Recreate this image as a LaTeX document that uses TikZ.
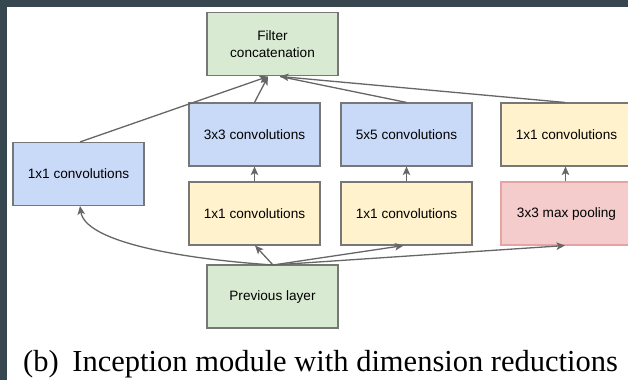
\documentclass[tikz,border=0pt]{standalone}
\usepackage{fontspec}
\setmainfont{Liberation Serif}
\setsansfont{Liberation Sans}
\usetikzlibrary{arrows.meta}
\definecolor{bandcol}{HTML}{37474F}
\definecolor{bluefill}{HTML}{C9DAF8}
\definecolor{yellowfill}{HTML}{FFF2CC}
\definecolor{greenfill}{HTML}{D9EAD3}
\definecolor{pinkfill}{HTML}{F4CCCC}
\definecolor{edgecol}{HTML}{777777}
\definecolor{arrowcol}{HTML}{666666}
\definecolor{pinkedge}{HTML}{E6A3A3}
\begin{document}
\begin{tikzpicture}[x=1pt,y=-1pt,
  box/.style={draw=edgecol, line width=1.1pt, minimum width=131pt, minimum height=63pt,
    inner sep=0pt, align=center, font=\sffamily\fontsize{13.6}{16.5}\selectfont},
  conn/.style={draw=arrowcol, line width=1.3pt, -{Stealth[length=8.5pt,width=7.5pt,inset=2pt]}},
  plain/.style={draw=arrowcol, line width=1.3pt}]
\useasboundingbox (0,0) rectangle (628,380);
\fill[white] (0,0) rectangle (628,380);
\fill[bandcol] (0,0) rectangle (628,7);
\fill[bandcol] (0,0) rectangle (7,380);
\begin{scope}
\clip (7,7) rectangle (628,380);
\node[box, fill=greenfill] (filt) at (272.5,44) {Filter\\concatenation};
\node[box, fill=bluefill] (left) at (78.5,174) {1x1 convolutions};
\node[box, fill=bluefill] (c33) at (254.5,134.5) {3x3 convolutions};
\node[box, fill=bluefill] (c55) at (406.5,134.5) {5x5 convolutions};
\node[box, fill=yellowfill] (r11) at (566.5,134.5) {1x1 convolutions};
\node[box, fill=yellowfill] (y1) at (254.5,213.5) {1x1 convolutions};
\node[box, fill=yellowfill] (y2) at (406.5,213.5) {1x1 convolutions};
\node[box, fill=pinkfill, draw=pinkedge] (pool) at (566.5,213.5) {3x3 max pooling};
\node[box, fill=greenfill] (prev) at (272.5,296.5) {Previous layer};
\coordinate (fa) at (268,76.5);
\coordinate (fb) at (280,76.5);
\draw[conn] (left.north) ++(1.5,0) coordinate (lt) -- (fa);
\draw[conn] (c33.north) -- (fa);
\draw[plain] (c55.north) -- (fb);
\draw[conn] (r11.north) ++(-1.5,0) coordinate (rt) -- (fb);
\draw[conn] (y1.north) -- (c33.south);
\draw[conn] (y2.north) -- (c55.south);
\draw[conn] (pool.north) ++(-1,0) coordinate (pt) -- ([xshift=-1pt]r11.south);
\coordinate (src) at (273,265);
\draw[conn] (src) .. controls (170,258) and (85,240) .. ([xshift=1.5pt]left.south);
\draw[conn] (src) -- ([xshift=0.5pt]y1.south);
\draw[conn] (src) -- ([xshift=-3pt]y2.south);
\draw[conn] (src) -- ([xshift=-1.5pt]pool.south);
\end{scope}
\node[anchor=base west, inner sep=0pt, font=\fontsize{30.5}{32}\selectfont] (cap) at (23,371)
  {(b)\hspace{0.45em}Inception module with dimension reductions};
\end{tikzpicture}
\end{document}
